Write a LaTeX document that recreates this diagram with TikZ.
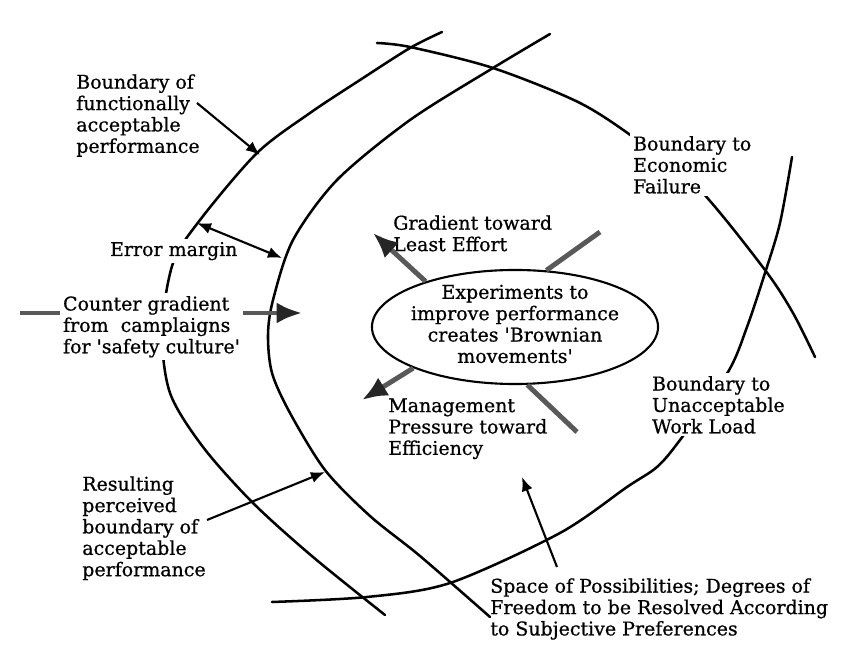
\documentclass[tikz,border=0pt]{standalone}
\usepackage{fontspec}
\setmainfont{DejaVu Serif}[FakeBold=0.7]
\usetikzlibrary{arrows.meta}
\usetikzlibrary{shapes.geometric}

\begin{document}
\begin{tikzpicture}[
    x = .025cm,
    y = -.025cm,
    font = \fontsize{13.5}{15.2}\selectfont,
    >={Latex[length=10pt,width=8pt]},
    bndf/.style = {
      line width=1.8pt,
      line cap=round
    },
    lblf/.style = {
      align=left,
      anchor=north west,
      inner sep=0pt
    },
    lblw/.style = {
      lblf,
      fill=white,
      inner sep=2pt
    },
    arrf/.style = {
      ->,
      line width=1.5pt
    },
    gradf/.style = {
      draw=black!65,
      line width=3.5pt
    },
    gradh/.style = {
      gradf,
      -{Latex[length=18pt,width=15pt,color=black!85]}
    }
  ]
    \useasboundingbox (0,0) rectangle (850,661);

    \draw[bndf] plot[smooth] coordinates {(442,32) (410,48) (360,80) (310,113) (257,153) (200,220) (173,263) (162,330) (170,393) (203,447) (253,503) (313,557) (385,615)};
    \draw[bndf] plot[smooth] coordinates {(550,34) (493,68) (410,120) (337,180) (293,240) (273,300) (268,335) (272,373) (290,413) (325,470) (370,516) (420,556) (490,617)};
    \draw[bndf] plot[smooth] coordinates {(377,43) (410,47) (493,68) (580,103) (640,142) (700,190) (765,270) (793,313) (815,357)};
    \draw[bndf] plot[smooth] coordinates {(792,157) (780,223) (765,273) (747,327) (728,372) (680,440) (657,467) (627,487) (560,533) (450,583) (367,597) (272,602)};

    \coordinate (cgs) at (20,313);
    \coordinate (cgt) at (302,313);
    \draw[gradh] (cgs) -- (cgt);

    \node[lblf] (bfa) at (76,74) {Boundary of\\functionally\\acceptable\\performance};
    \node[lblw, anchor=base west] (errm) at (107,256) {Error margin};
    \node[lblw] (counter) at (60,293) {Counter gradient\\from\ \ camplaigns\\for \textquotesingle safety culture\textquotesingle};
    \node[lblf] (grad) at (393,215) {Gradient toward\\Least Effort};
    \node[lblf] (mgmt) at (388,398) {Management\\Pressure toward\\Efficiency};
    \node[lblw] (econ) at (630,133) {Boundary to\\Economic\\Failure};
    \node[lblw] (work) at (649,373) {Boundary to\\Unacceptable\\Work Load};
    \node[lblf] (res) at (82,476) {Resulting\\perceived\\boundary of\\acceptable\\performance};
    \node[lblf] (space) at (490,578) {Space of Possibilities; Degrees of\\Freedom to be Resolved According\\to Subjective Preferences};

    \node[ellipse, draw, line width=1.5pt, minimum width=7.15cm, minimum height=2.85cm, inner sep=0pt] (exp) at (515,327) {};
    \node[align=center] (exptext) at (515,324) {Experiments to\\improve performance\\creates \textquotesingle Brownian\\movements\textquotesingle};

    \coordinate (least) at (373,233);
    \coordinate (upr) at (600,232);
    \coordinate (mgt) at (362,400);
    \coordinate (lwr) at (577,432);
    \draw[gradh] (exp.153) -- (least);
    \draw[gradf] (exp.61) -- (upr);
    \draw[gradh] (exp.202) -- (mgt);
    \draw[gradf] (exp.282) -- (lwr);

    \coordinate (bfas) at (197,103);
    \coordinate (bfat) at (260,155);
    \draw[arrf] (bfas) -- (bfat);

    \coordinate (em1) at (197,223);
    \coordinate (em2) at (282,258);
    \draw[arrf, <->] (em1) -- (em2);

    \coordinate (ress) at (207,520);
    \coordinate (rest) at (325,472);
    \draw[arrf] (ress) -- (rest);

    \coordinate (spaces) at (557,567);
    \coordinate (spacet) at (522,477);
    \draw[arrf] (spaces) -- (spacet);

  \end{tikzpicture}
\end{document}
